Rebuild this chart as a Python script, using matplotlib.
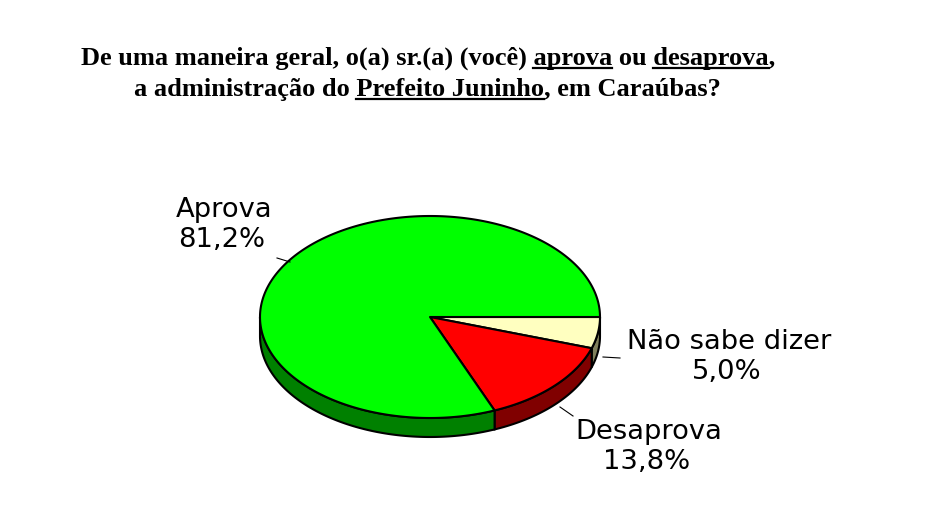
import numpy as np
import matplotlib
matplotlib.use('Agg')
import matplotlib.pyplot as plt
from matplotlib.patches import Polygon

# dados
categorias = ['Não sabe dizer', 'Desaprova', 'Aprova']
valores = [5.0, 13.8, 81.2]
rotulos = ['5,0%', '13,8%', '81,2%']
cores_topo = ['#FFFFC0', '#FF0000', '#00FF00']
cores_lado = ['#80805C', '#800000', '#008000']

linha1 = [('De uma maneira geral, o(a) sr.(a) (você) ', False), ('aprova', True),
          (' ou ', False), ('desaprova', True), (',', False)]
linha2 = [('a administração do ', False), ('Prefeito Juninho', True), (', em Caraúbas?', False)]

fig = plt.figure(figsize=(9.3, 5.13), dpi=100)
ax = fig.add_axes([0, 0, 1, 1])
ax.set_xlim(0, 930)
ax.set_ylim(513, 0)
ax.axis('off')

fig.canvas.draw()
renderer = fig.canvas.get_renderer()

def largura(s, **kw):
    t = ax.text(0, 0, s, **kw)
    bb = t.get_window_extent(renderer)
    t.remove()
    return bb.width

# geometria da pizza 3D (pixels)
cx, cy = 430, 317
rx, ry = 170, 101
prof = 19

def arco(a0, a1, dy=0):
    t = np.radians(np.linspace(a0, a1, max(int(abs(a1 - a0)) * 2, 2)))
    return np.column_stack([cx + rx * np.cos(t), cy + ry * np.sin(t) + dy])

fracs = np.array(valores) / sum(valores)
limites = np.concatenate([[0], np.cumsum(fracs) * 360])

# laterais (parte da frente, 0..180 graus)
for i in range(len(valores)):
    a0, a1 = limites[i], min(limites[i + 1], 180)
    if a0 >= 180:
        continue
    topo = arco(a0, a1)
    baixo = arco(a0, a1, prof)[::-1]
    ax.add_patch(Polygon(np.vstack([topo, baixo]), closed=True, fc=cores_lado[i],
                         ec='black', lw=1.5, zorder=1))

# topo
for i in range(len(valores)):
    pts = np.vstack([[cx, cy], arco(limites[i], limites[i + 1])])
    ax.add_patch(Polygon(pts, closed=True, fc=cores_topo[i], ec='black', lw=1.5,
                         joinstyle='round', zorder=2))

# rotulos (tamanho ajustado pela largura de "Não sabe dizer" ~ 205 px)
fam_rot = 'DejaVu Sans'
tam_rot = 10 * 205 / largura(categorias[0], family=fam_rot, fontsize=10)
fonte_rot = dict(family=fam_rot, fontsize=tam_rot, ha='center', va='baseline')
pos_rot = [(729, 349), (649, 439), (224, 217)]
linhas_guia = [[(603, 357), (620, 358)], [(560, 407), (573, 416)], [(277, 258), (290, 262)]]
for i in range(len(valores)):
    x, y = pos_rot[i]
    ax.text(x, y, categorias[i], **fonte_rot)
    ax.text(x - 2, y + 30, rotulos[i], **fonte_rot)
    (x0, y0), (x1, y1) = linhas_guia[i]
    ax.plot([x0, x1], [y0, y1], color='black', lw=0.8, zorder=3)

# titulo com sublinhado
fonte_tit = dict(family='Liberation Serif', fontsize=19, fontweight='bold')

def titulo(partes, xc, y):
    texto = ''.join(p for p, _ in partes)
    ax.text(xc, y, texto, ha='center', va='baseline', **fonte_tit)
    total = largura(texto, **fonte_tit)
    esq = xc - total / 2
    prefixo = ''
    for p, sub in partes:
        if sub:
            x1 = esq + largura(prefixo + p, **fonte_tit)
            x0 = x1 - largura(p, **fonte_tit)
            ax.plot([x0, x1], [y + 3, y + 3], color='black', lw=1.6)
        prefixo += p

titulo(linha1, 428, 65)
titulo(linha2, 427, 96)

fig.savefig('out.png', dpi=100)
